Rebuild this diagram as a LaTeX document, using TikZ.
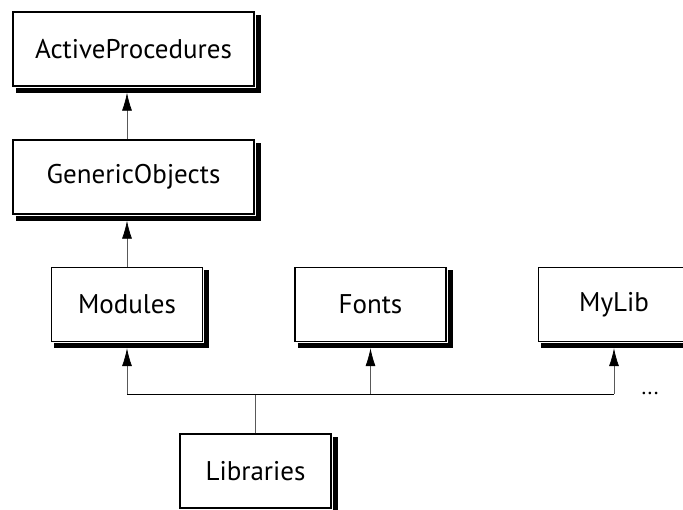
\documentclass[tikz,border=0pt]{standalone}
\usepackage{fontspec}
\setmainfont{PT Sans}
\usetikzlibrary{arrows.meta,calc}
\begin{document}
\begin{tikzpicture}[x=1pt,y=-1pt,
    box/.style={draw, line width=1.4pt, fill=white, minimum width=151pt, minimum height=74pt,
      inner sep=0pt, font=\fontsize{27}{32}\selectfont},
    shade/.style={line width=5pt, line cap=rect, black},
    link/.style={line width=0.7pt, black!65},
    up/.style={link, -{Latex[length=18pt,width=10pt,black]}, shorten >=6pt}]
  \useasboundingbox (0,0) rectangle (683,510);
  \node[box, minimum width=241pt] (act) at (133.5,49){ActiveProcedures};
  \node[box, minimum width=241pt] (gen) at (133.5,177){GenericObjects};
  \node[box] (mod) at (127,304.5){Modules};
  \node[box] (fon) at (370.5,304.5){Fonts};
  \node[box] (myl) at (614,304.5){MyLib};
  \node[box] (lib) at (255.5,471){Libraries};
  % shadows, right and below each box
  \foreach \b in {act,gen,mod,fon,myl,lib}{
    \draw[shade] ($(\b.north east)+(3.5,6)$) |- ($(\b.south west)+(6,3.5)$);
  }
  \coordinate (bus) at (255.5,394);
  \node[font=\fontsize{22}{26}\selectfont, anchor=base] (more) at (650,395){...};
  \draw[up](gen.north -| mod.north) -- (act.south -| mod.north);
  \draw[up](mod.north) -- (gen.south -| mod.north);
  \draw[link](lib.north) -- (bus);
  \draw[link, black](bus -| mod.south) -- (bus -| myl.south);
  \draw[up](bus -| mod.south) -- (mod.south);
  \draw[up](bus -| fon.south) -- (fon.south);
  \draw[up](bus -| myl.south) -- (myl.south);
\end{tikzpicture}
\end{document}
